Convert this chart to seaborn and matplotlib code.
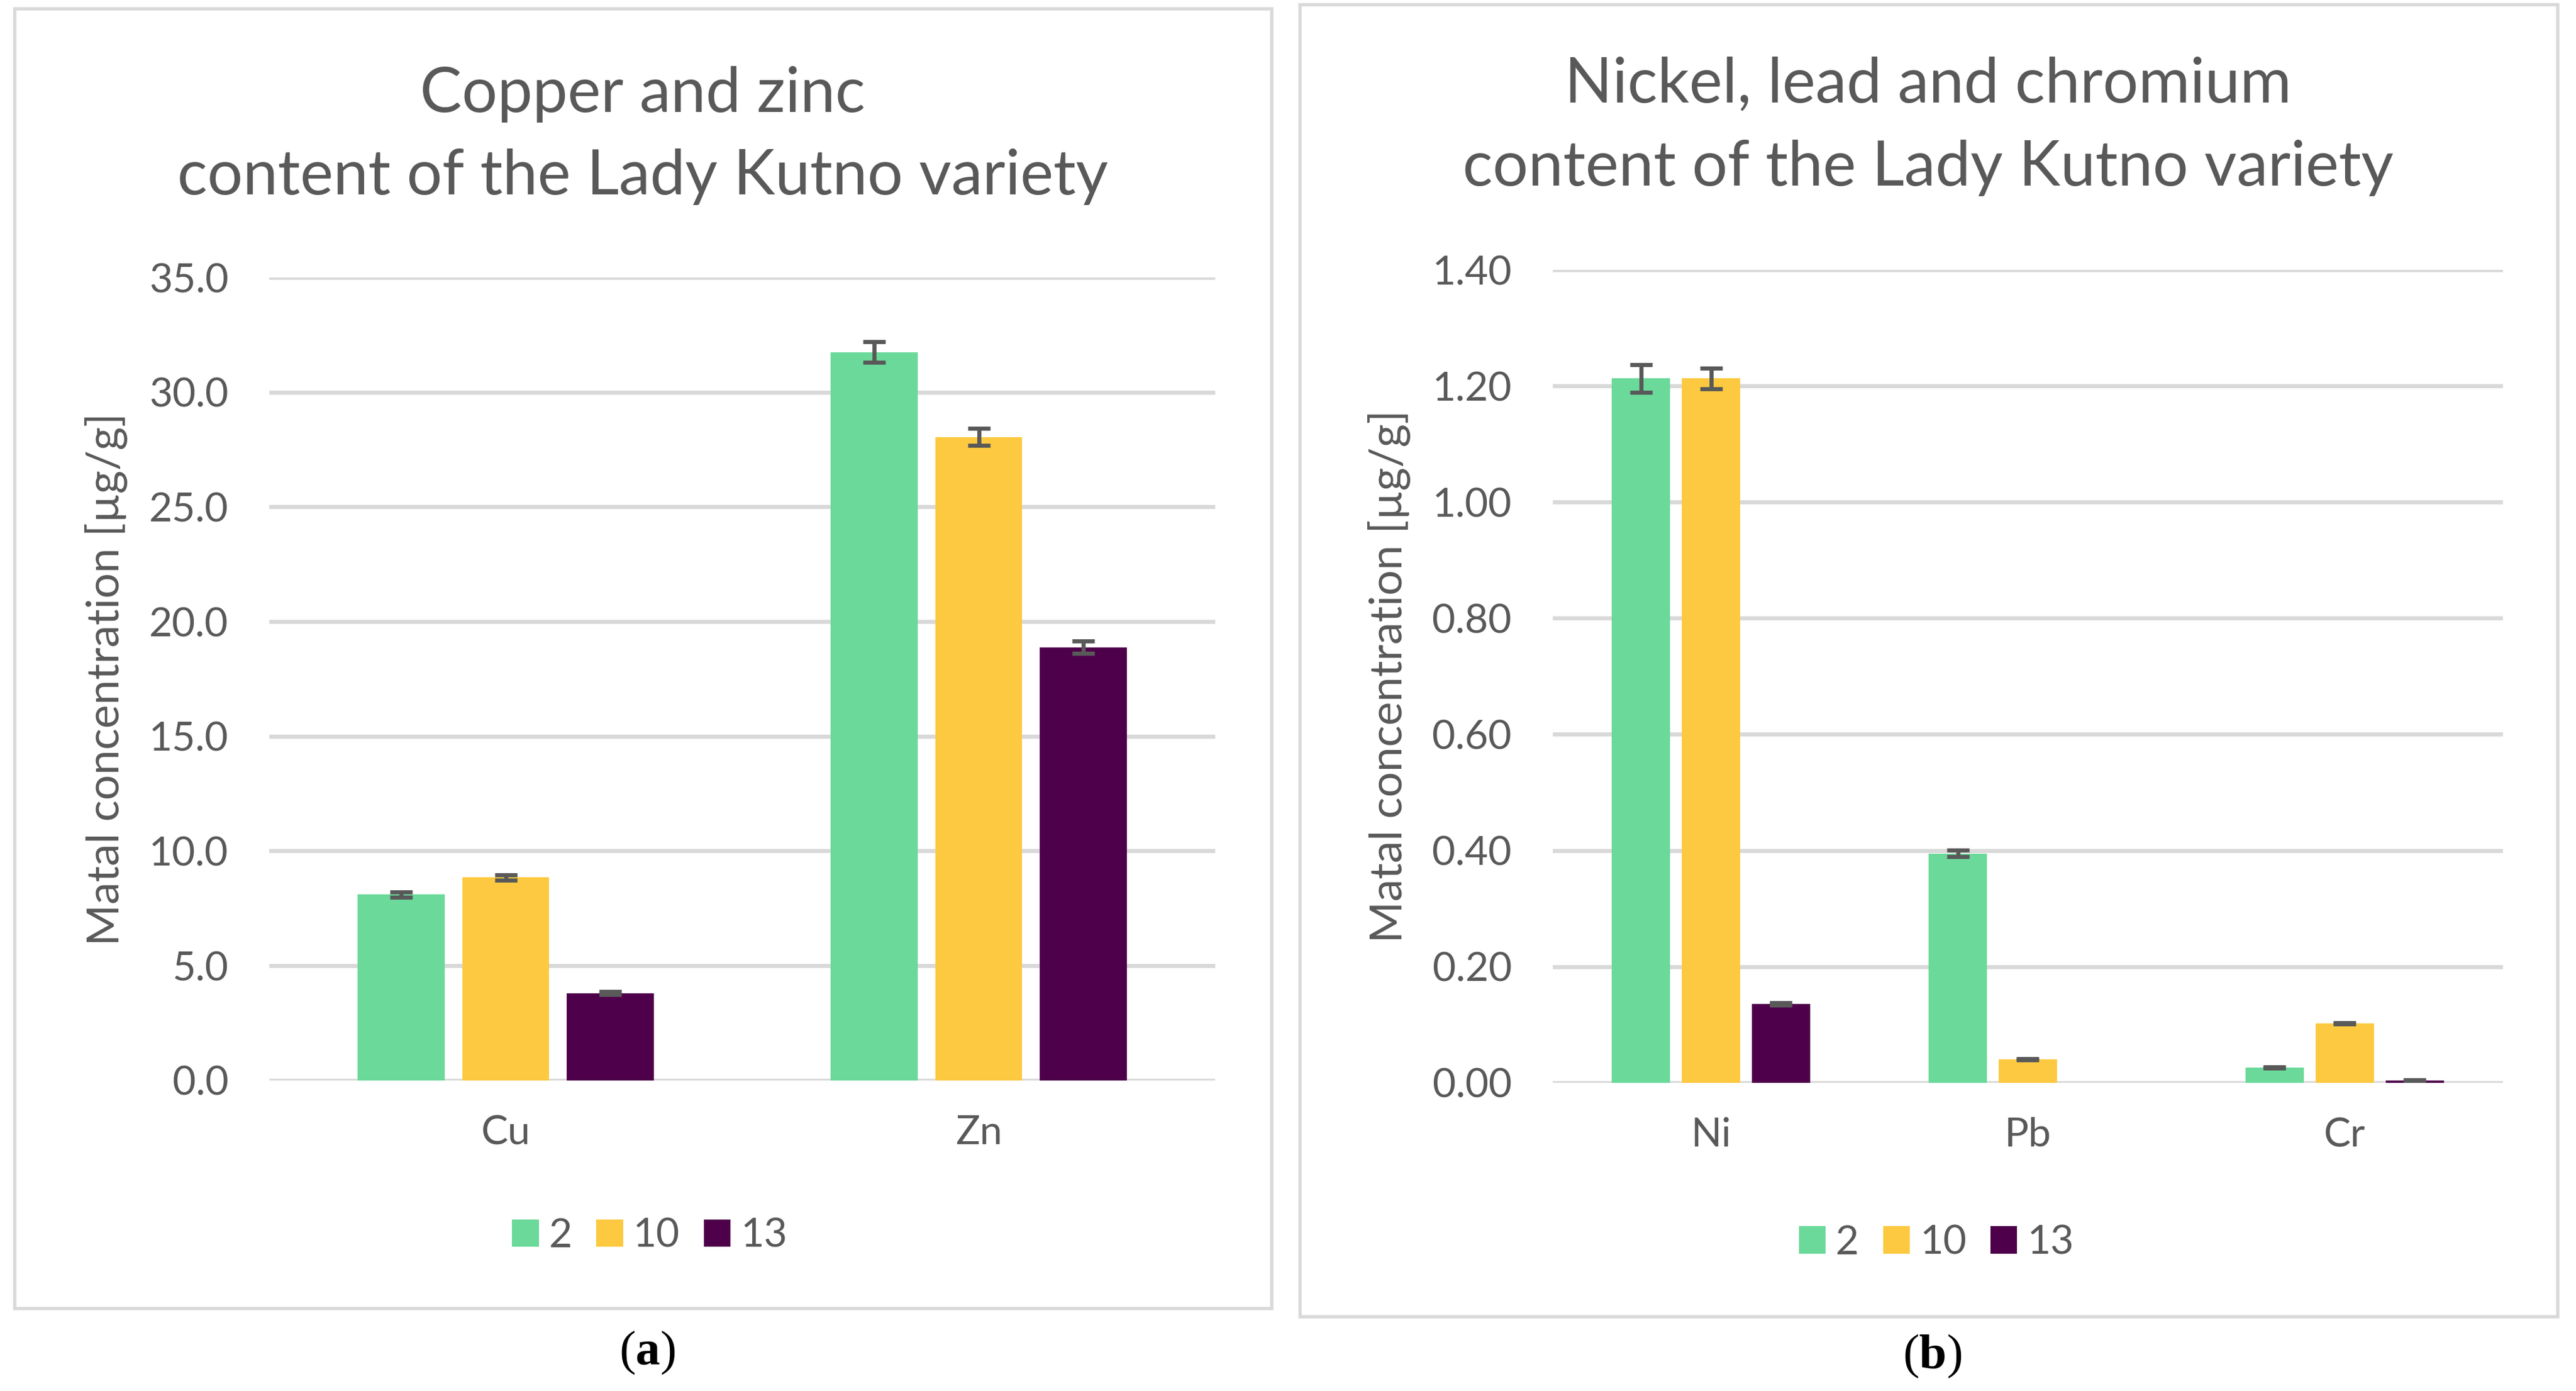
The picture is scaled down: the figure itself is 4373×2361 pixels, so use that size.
import matplotlib
matplotlib.use("Agg")
import matplotlib.pyplot as plt
import matplotlib.patches as mpatches
import matplotlib.ticker as mticker
import numpy as np
import pandas as pd
import seaborn as sns

# ---------------- data ----------------
samples = ["2", "10", "13"]
colors = ["#6AD99A", "#FDC940", "#4F004B"]

left_metals = ["Cu", "Zn"]
left_s2 = [8.10, 31.75]
left_s10 = [8.85, 28.05]
left_s13 = [3.80, 18.88]
left_err_s2 = [0.12, 0.45]
left_err_s10 = [0.12, 0.37]
left_err_s13 = [0.06, 0.27]

right_metals = ["Ni", "Pb", "Cr"]
right_s2 = [1.213, 0.395, 0.026]
right_s10 = [1.213, 0.040, 0.102]
right_s13 = [0.136, 0.0, 0.004]
right_err_s2 = [0.024, 0.006, 0.001]
right_err_s10 = [0.018, 0.001, 0.001]
right_err_s13 = [0.002, 0.0, 0.0005]

left_title = "Copper and zinc\ncontent of the Lady Kutno variety"
right_title = "Nickel, lead and chromium\ncontent of the Lady Kutno variety"
ylabel = "Matal concentration [µg/g]"
left_ticks = [0, 5, 10, 15, 20, 25, 30, 35]
right_ticks = [0, 0.2, 0.4, 0.6, 0.8, 1.0, 1.2, 1.4]

# ---------------- style ----------------
sns.set_theme(style="white")
FONT = "Lato"
plt.rcParams["font.family"] = [FONT, "DejaVu Sans"]
plt.rcParams["mathtext.fontset"] = "custom"
plt.rcParams["mathtext.rm"] = "Liberation Serif"
plt.rcParams["mathtext.bf"] = "Liberation Serif:bold"
TXT = "#595959"
GRID = "#D9D9D9"

fig = plt.figure(figsize=(43.73, 23.61), dpi=100)
fig.patch.set_facecolor("white")

# scale factor: fit substitute font to Calibri-like widths
renderer = fig.canvas.get_renderer()
_t = fig.text(0, 0, "content of the Lady Kutno variety", fontsize=84)
_w = _t.get_window_extent(renderer).width
_t.remove()
k = 1581.0 / _w

FS_TITLE = 84 * k
FS_TICK = 54 * k
FS_LABEL = 60 * k
FS_LEG = 54 * k


def make_df(metals, vals):
    rows = []
    for s, v in zip(samples, vals):
        for m, x in zip(metals, v):
            rows.append({"metal": m, "sample": s, "value": x})
    return pd.DataFrame(rows)


def draw(ax, metals, vals, errs, ylim, ticks, fmt, title_x, title_y1, title_y2,
         title, leg_xy, sub_xy, sub):
    df = make_df(metals, vals)
    sns.barplot(data=df, x="metal", y="value", hue="sample", hue_order=samples,
                order=metals, palette=colors, errorbar=None, width=0.663,
                gap=0.17, saturation=1, legend=False, ax=ax, zorder=3,
                linewidth=0)
    for cont, e in zip(ax.containers, errs):
        for bar, ee in zip(cont, e):
            if ee <= 0:
                continue
            xc = bar.get_x() + bar.get_width() / 2
            ax.errorbar(xc, bar.get_height(), yerr=ee, color=TXT, elinewidth=5,
                        capsize=14, capthick=5, zorder=4, fmt="none")
    ax.set_xlim(-0.5, len(metals) - 0.5)
    ax.set_ylim(*ylim)
    ax.set_yticks(ticks)
    ax.yaxis.set_major_formatter(mticker.StrMethodFormatter(fmt))
    ax.grid(axis="y", color=GRID, linewidth=5, zorder=0)
    ax.grid(axis="x", visible=False)
    ax.set_axisbelow(True)
    for sp in ax.spines.values():
        sp.set_visible(False)
    ax.tick_params(axis="y", length=0, pad=50, labelsize=FS_TICK, labelcolor=TXT)
    ax.tick_params(axis="x", length=0, pad=42, labelsize=FS_TICK, labelcolor=TXT)
    ax.set_xlabel("")
    ax.set_ylabel(ylabel, fontsize=FS_LABEL, color=TXT, va="center")
    ax.yaxis.set_label_coords(-0.172, 0.5)
    l1, l2 = title.split("\n")
    fig.text(title_x, title_y1, l1, fontsize=FS_TITLE, color=TXT, ha="center", va="center")
    fig.text(title_x, title_y2, l2, fontsize=FS_TITLE, color=TXT, ha="center", va="center")
    handles = [mpatches.Patch(facecolor=c, edgecolor="none") for c in colors]
    ax.legend(handles, samples, loc="center", bbox_to_anchor=leg_xy,
              bbox_transform=fig.transFigure, ncol=3, frameon=False,
              fontsize=FS_LEG, labelcolor=TXT, handlelength=0.66, handleheight=0.66,
              handletextpad=0.25, columnspacing=0.6)
    fig.text(sub_xy[0], sub_xy[1], sub, fontsize=60, color="black", ha="center",
             va="center", family="Liberation Serif")


# frames
fig.patches.append(mpatches.Rectangle((0.0058, 0.0594), 0.4878, 0.9342, transform=fig.transFigure,
                                      fill=False, edgecolor=GRID, linewidth=4, zorder=0))
fig.patches.append(mpatches.Rectangle((0.5047, 0.0534), 0.4882, 0.9434, transform=fig.transFigure,
                                      fill=False, edgecolor=GRID, linewidth=4, zorder=0))

axL = fig.add_axes([0.1045, 0.2233, 0.3673, 0.5772])
axR = fig.add_axes([0.6027, 0.2216, 0.3690, 0.5844])

draw(axL, left_metals, [left_s2, left_s10, left_s13],
     [left_err_s2, left_err_s10, left_err_s13], (0, 35), left_ticks, "{x:.1f}",
     0.2494, 0.9323, 0.8729, left_title, (0.2522, 0.1115), (0.2513, 0.0275),
     r"($\mathbf{a}$)")
draw(axR, right_metals, [right_s2, right_s10, right_s13],
     [right_err_s2, right_err_s10, right_err_s13], (0, 1.4), right_ticks, "{x:.2f}",
     0.7485, 0.9394, 0.8795, right_title, (0.7517, 0.1065), (0.75, 0.0250),
     r"($\mathbf{b}$)")

fig.savefig("out.png", dpi=100, facecolor="white")
